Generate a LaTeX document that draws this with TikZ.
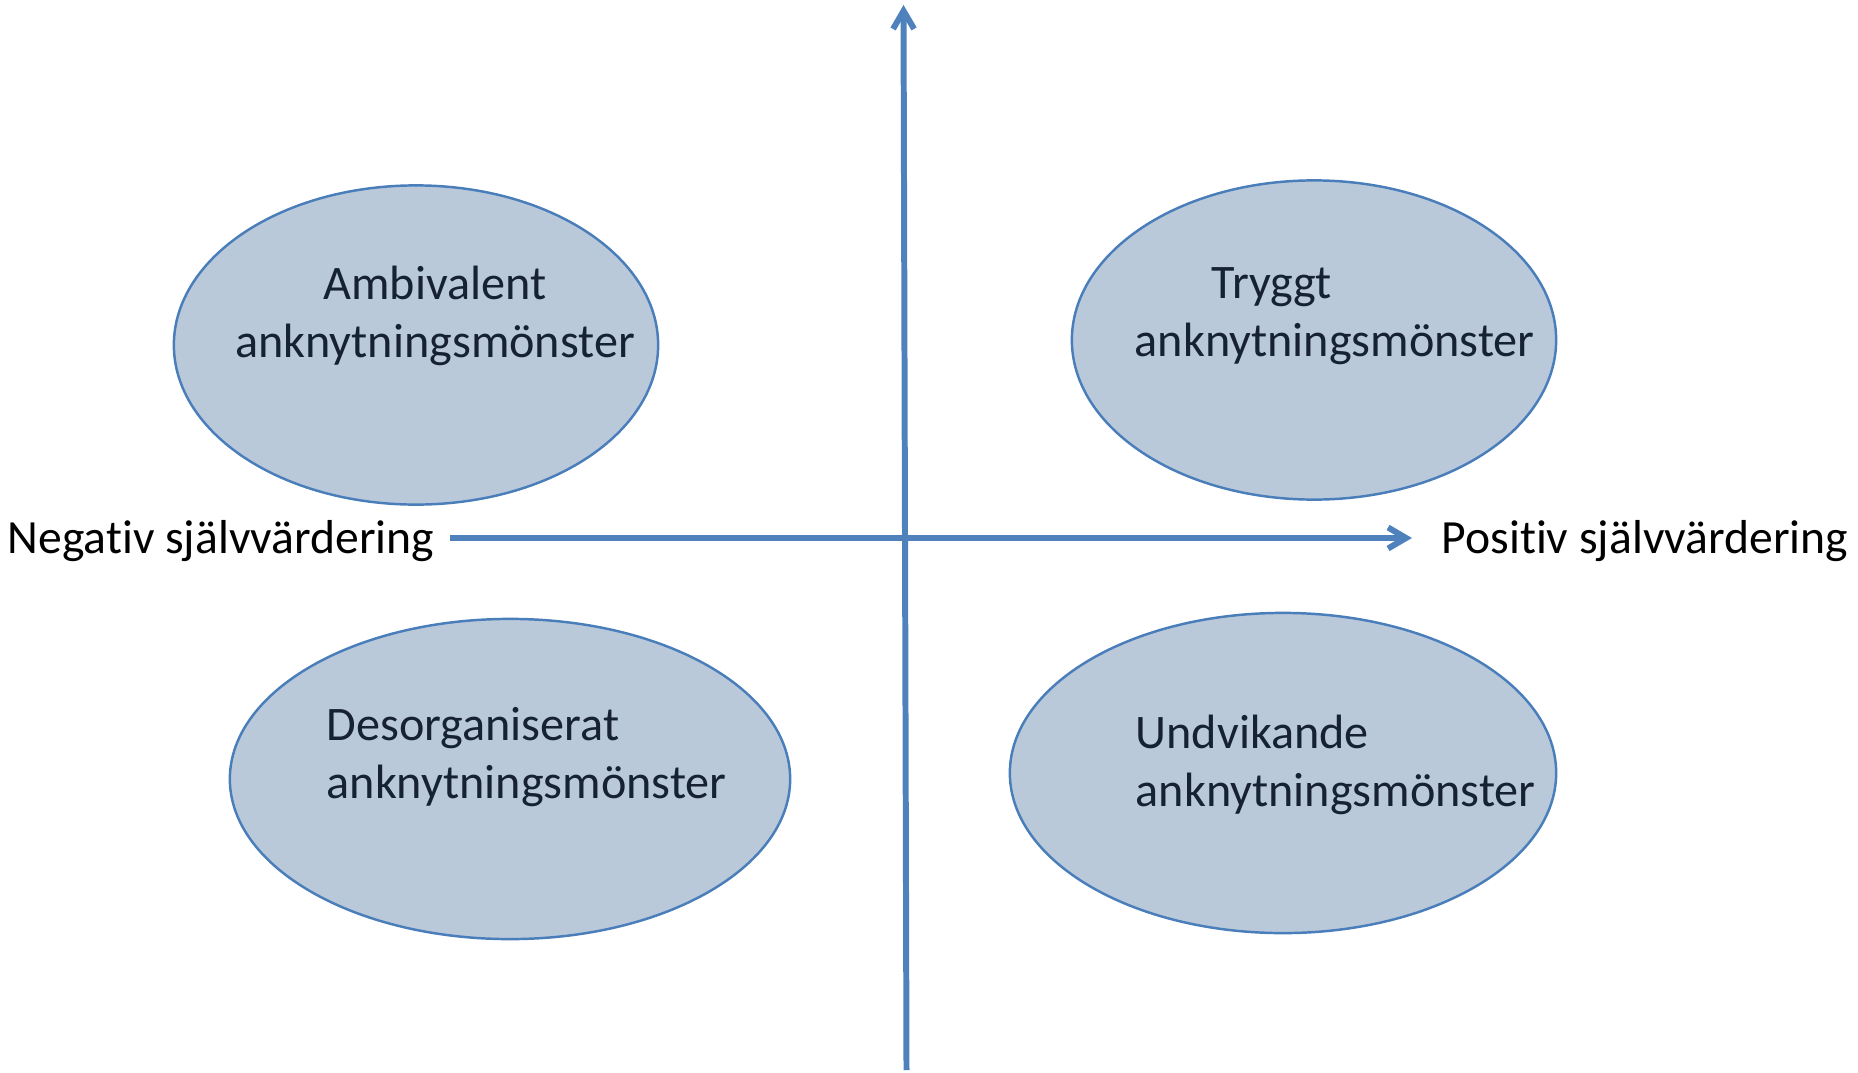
\documentclass[tikz,border=0pt]{standalone}
\usepackage{fontspec}
\setmainfont{Carlito}[Ligatures={NoCommon}]
\usetikzlibrary{arrows.meta}
\usetikzlibrary{positioning}
\usetikzlibrary{shapes.geometric}
\definecolor{axisblue}{RGB}{79,129,189}
\definecolor{ovalfill}{RGB}{185,201,218}
\definecolor{ovaldraw}{RGB}{74,126,187}
\definecolor{ovaltext}{RGB}{22,34,52}

\begin{document}
\begin{tikzpicture}[x=0.01cm,y=-0.01cm,
  oval/.style={ellipse,draw=ovaldraw,fill=ovalfill,line width=0.7pt,inner sep=0},
  ovallabel/.style={font=\fontsize{13.7}{16.4}\selectfont,text=ovaltext,inner sep=0},
  axislabel/.style={font=\fontsize{13.55}{16.3}\selectfont,text=black,inner sep=0},
  axisline/.style={draw=axisblue,line width=1.7pt,-{Straight Barb[length=1.8mm,width=2.1mm]}}]
\useasboundingbox (0,0) rectangle (1858,1073);

\node[oval,minimum width=4.84cm,minimum height=3.19cm] (amb) at (416,345) {};
\node[oval,minimum width=4.84cm,minimum height=3.19cm] (tryg) at (1314,340) {};
\node[oval,minimum width=5.60cm,minimum height=3.20cm] (des) at (510,779) {};
\node[oval,minimum width=5.46cm,minimum height=3.20cm] (und) at (1283,773) {};

\node[ovallabel,align=center] (ambtxt) at (435,316) {Ambivalent\\anknytningsmönster};
\node[ovallabel,align=left,anchor=west] (trygtxt) at (1134,316) {\hspace*{0.77cm}Tryggt\\anknytningsmönster};
\node[ovallabel,align=left,anchor=west] (destxt) at (326,757) {Desorganiserat\\anknytningsmönster};
\node[ovallabel,align=left,anchor=west] (undtxt) at (1135,765) {Undvikande\\anknytningsmönster};

\coordinate (xl) at (450,538);
\coordinate (xr) at (1412,538);
\coordinate (yb) at (906.5,1070);
\coordinate (yt) at (903.5,5);
\draw[axisline] (xl) -- (xr);
\draw[axisline] (yb) -- (yt);

\node[axislabel,left=0.15cm of xl,yshift=-0.03cm] (neg) {Negativ självvärdering};
\node[axislabel,right=0.29cm of xr,yshift=-0.03cm] (pos) {Positiv självvärdering};

\end{tikzpicture}
\end{document}
